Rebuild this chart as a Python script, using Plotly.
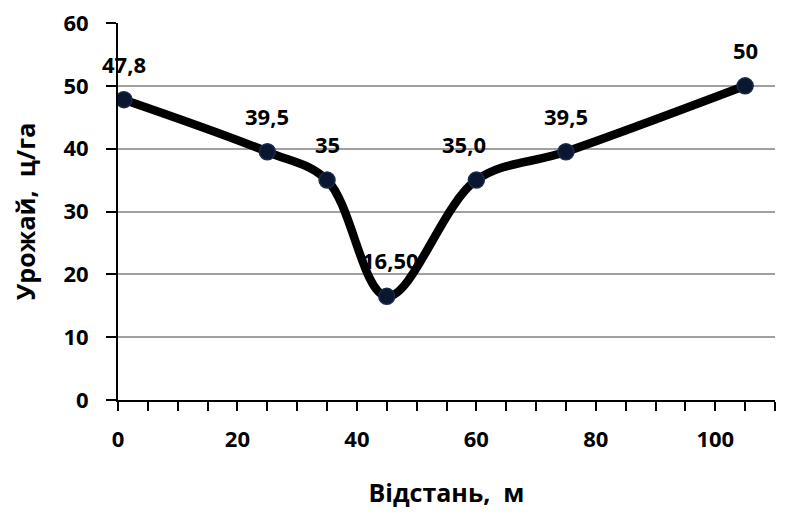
import plotly.graph_objects as go

distance = [1, 25, 35, 45, 60, 75, 105]
yield_vals = [47.8, 39.5, 35.0, 16.5, 35.0, 39.5, 50.0]
labels = ["47,8", "39,5", "35", "16,50", "35,0", "39,5", "50"]
label_xshift = [0, 0, 0, 4, -12, 0, 0]
y_ticks = [0, 10, 20, 30, 40, 50, 60]

FONT = "Open Sans"

fig = go.Figure()
fig.add_trace(go.Scatter(
    x=distance, y=yield_vals, mode="lines+markers",
    line=dict(color="black", width=8.5, shape="spline", smoothing=1.0),
    marker=dict(size=16, color="#0b1630", line=dict(color="#1a2a4a", width=1.5)),
    showlegend=False, hoverinfo="skip",
))

for x, y, t, dx in zip(distance, yield_vals, labels, label_xshift):
    fig.add_annotation(x=x, y=y, text=t, showarrow=False, yshift=36, xshift=dx,
                       font=dict(family=FONT, size=22, color="black", weight="bold"))

fig.update_layout(
    width=800, height=522,
    margin=dict(l=110, r=33, t=15, b=130, autoexpand=False),
    paper_bgcolor="white", plot_bgcolor="white",
    font=dict(family=FONT, color="black"),
)
fig.update_xaxes(
    range=[0, 110], dtick=20, tick0=0, automargin=False,
    showline=True, linecolor="black", linewidth=2,
    ticks="outside", ticklen=9, tickwidth=2, tickcolor="black",
    minor=dict(dtick=5, tick0=0, ticks="outside", ticklen=9, tickwidth=2, tickcolor="black", showgrid=False),
    showgrid=False, zeroline=False, ticklabelstandoff=10, ticklabeloverflow="allow",
    tickfont=dict(family=FONT, size=22, color="black", weight="bold"),
    title=dict(text="Відстань,  м", font=dict(family=FONT, size=25, color="black", weight="bold"), standoff=32),
)
fig.update_yaxes(
    range=[0, 60.001], tickmode="array", tickvals=y_ticks, automargin=False,
    showline=True, linecolor="black", linewidth=2,
    ticks="outside", ticklen=10, tickwidth=2, tickcolor="black",
    showgrid=True, gridcolor="#a0a0a0", gridwidth=1.5, zeroline=False,
    ticklabelstandoff=13, ticklabeloverflow="allow",
    tickfont=dict(family=FONT, size=22, color="black", weight="bold"),
    title=dict(text="Урожай,  ц/га", font=dict(family=FONT, size=25, color="black", weight="bold"), standoff=24),
)

fig.write_html("out.html")
